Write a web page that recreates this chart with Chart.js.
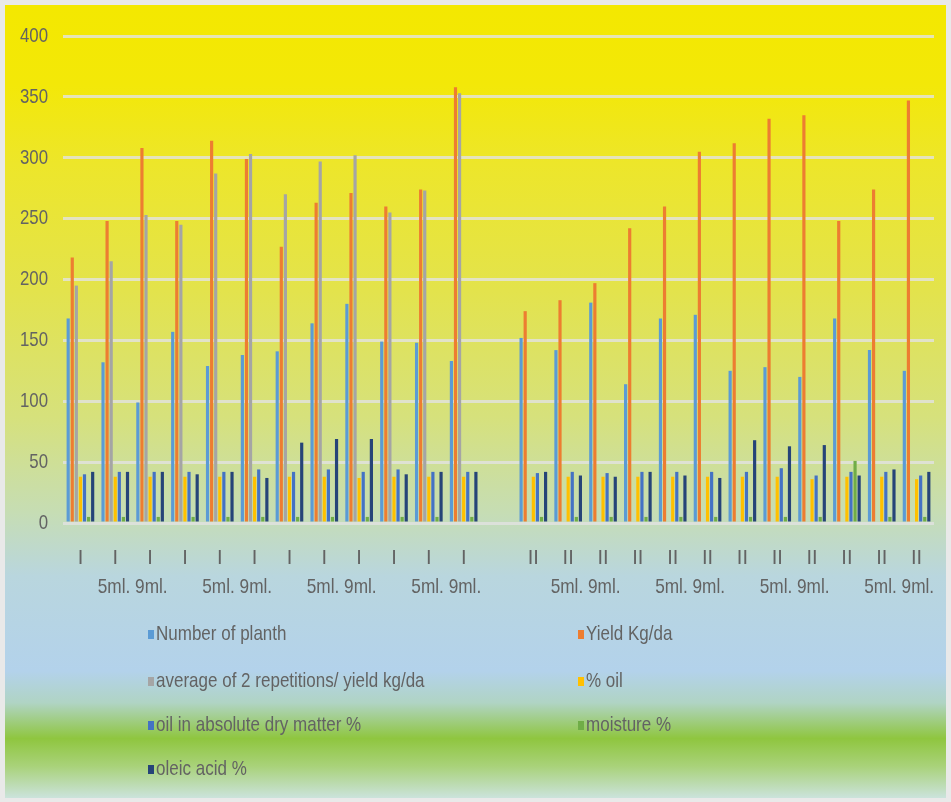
<!DOCTYPE html>
<html>
<head>
<meta charset="utf-8">
<script src="https://cdn.jsdelivr.net/npm/chart.js@4.4.1/dist/chart.umd.min.js"></script>
<style>
  html, body { margin: 0; padding: 0; background: #ececec; }
  #wrap { width: 951px; height: 802px; }
</style>
</head>
<body>
<div id="wrap"><canvas id="chart" width="951" height="802"></canvas></div>
<script>
// Treatment groups: 12 plots in group I, an empty slot, 12 plots in group II
const categories = ['I','I','I','I','I','I','I','I','I','I','I','I','',
                    'II','II','II','II','II','II','II','II','II','II','II','II'];

// Second label row: dose text placed between two neighbouring plots
const doseLabels = ['5ml. 9ml.','5ml. 9ml.','5ml. 9ml.','5ml. 9ml.',
                    '5ml. 9ml.','5ml. 9ml.','5ml. 9ml.','5ml. 9ml.'];
const doseSpans = [[1,2],[4,5],[7,8],[10,11],[14,15],[17,18],[20,21],[23,24]];

const yMin = 0, yMax = 400, yStep = 50;

const seriesNames = ['Number of planth', 'Yield Kg/da', 'average of 2 repetitions/ yield kg/da',
                     '% oil', 'oil in absolute dry matter %', 'moisture %', 'oleic acid %'];
const seriesColors = ['#5B9BD5', '#ED7D31', '#A5A5A5', '#FFC000', '#4472C4', '#70AD47', '#264478'];

const numberOfPlants = [168,132,99,157,129,138,141,164,180,149,148,133,null,
                        152,142,181,114,168,171,125,128,120,168,142,125];
const yieldKgDa      = [218,248,308,248,314,299,227,263,271,260,274,358,null,
                        174,183,197,242,260,305,312,332,335,248,274,347];
const avgYield       = [195,215,253,245,287,303,270,297,302,255,273,353,null,
                        null,null,null,null,null,null,null,null,null,null,null,null];
const oilPct         = [38,38,38,38,38,38,38,38,37,38,38,38,null,
                        38,38,38,38,38,38,38,38,36,38,38,36];
const oilDryMatter   = [40,42,42,42,42,44,42,44,42,44,42,42,null,
                        41,42,41,42,42,42,42,45,39,42,42,39];
const moisture       = [5,5,5,5,5,5,5,5,5,5,5,5,null,
                        5,5,5,5,5,5,5,5,5,51,5,5];
const oleicAcid      = [42,42,42,40,42,37,66,69,69,40,42,42,null,
                        42,39,38,42,39,37,68,63,64,39,44,42];

const seriesValues = [numberOfPlants, yieldKgDa, avgYield, oilPct, oilDryMatter, moisture, oleicAcid];

const FONT = "'Liberation Sans', Arial, sans-serif";
const TEXT = '#636363';

// Draws a horizontally narrowed line of text (condensed look)
function narrowText(ctx, txt, x, y, align, squeeze, size) {
  ctx.save();
  ctx.font = size + 'px ' + FONT;
  ctx.fillStyle = TEXT;
  ctx.textAlign = align;
  ctx.textBaseline = 'middle';
  ctx.translate(x, y);
  ctx.scale(squeeze, 1);
  ctx.fillText(txt, 0, 0);
  ctx.restore();
}

// Panel background: yellow at the top fading through pale blue into a green band
const backgroundPlugin = {
  id: 'panelBackground',
  beforeDraw(chart) {
    const { ctx, width, height } = chart;
    ctx.save();
    ctx.fillStyle = '#e9e9e9';
    ctx.fillRect(0, 0, width, height);
    const g = ctx.createLinearGradient(0, 5, 0, height - 4);
    g.addColorStop(0.00, '#f4e800');
    g.addColorStop(0.10, '#f3e808');
    g.addColorStop(0.20, '#ede62a');
    g.addColorStop(0.36, '#e3e34c');
    g.addColorStop(0.52, '#d6e17c');
    g.addColorStop(0.64, '#c6ddb4');
    g.addColorStop(0.72, '#b9d6de');
    g.addColorStop(0.84, '#b3d2eb');
    g.addColorStop(0.88, '#b0d4c4');
    g.addColorStop(0.925, '#8fc63f');
    g.addColorStop(0.96, '#a9d27a');
    g.addColorStop(1.00, '#cbe3dc');
    ctx.fillStyle = g;
    ctx.fillRect(5, 5, width - 10, height - 9);
    ctx.restore();
  }
};

// Value-axis labels, dose labels under the categories, and the two-column legend
const annotationPlugin = {
  id: 'axisTextAndLegend',
  afterDraw(chart) {
    const { ctx } = chart;
    const x = chart.scales.x;
    const y = chart.scales.y;

    y.ticks.forEach(t => {
      narrowText(ctx, String(t.value), chart.chartArea.left - 15, y.getPixelForValue(t.value), 'right', 0.8, 21);
    });

    doseLabels.forEach((txt, i) => {
      const [a, b] = doseSpans[i];
      const cx = (x.getPixelForValue(a) + x.getPixelForValue(b)) / 2;
      narrowText(ctx, txt, cx, 587, 'center', 0.82, 21);
    });

    const colX = [148, 578];
    const rowY = [634, 681, 725, 769];
    chart.data.datasets.forEach((ds, i) => {
      const col = i % 2, row = Math.floor(i / 2);
      const lx = colX[col], ly = rowY[row];
      ctx.save();
      ctx.fillStyle = ds.backgroundColor;
      ctx.fillRect(lx, ly - 4, 6, 9);
      ctx.restore();
      narrowText(ctx, ds.label, lx + 8, ly, 'left', 0.81, 21);
    });
  }
};

const datasets = seriesNames.map((name, i) => ({
  label: name,
  data: seriesValues[i],
  backgroundColor: seriesColors[i],
  borderWidth: 0
}));

new Chart(document.getElementById('chart'), {
  type: 'bar',
  data: { labels: categories, datasets },
  plugins: [backgroundPlugin, annotationPlugin],
  options: {
    responsive: false,
    animation: false,
    layout: { padding: { top: 36, right: 17, bottom: 0, left: 0 } },
    datasets: { bar: { categoryPercentage: 0.82, barPercentage: 0.78 } },
    plugins: { legend: { display: false }, tooltip: { enabled: false } },
    scales: {
      x: {
        grid: { display: false, drawTicks: false },
        border: { display: false },
        ticks: { color: TEXT, font: { family: FONT, size: 20 }, padding: 23, maxRotation: 0, autoSkip: false },
        afterFit(s) { s.height = 279; }
      },
      y: {
        min: yMin, max: yMax,
        ticks: { stepSize: yStep, display: false },
        grid: { color: 'rgba(226,226,226,0.8)', lineWidth: 3, drawTicks: false },
        border: { display: false },
        afterFit(s) { s.width = 63; }
      }
    }
  }
});
</script>
</body>
</html>
